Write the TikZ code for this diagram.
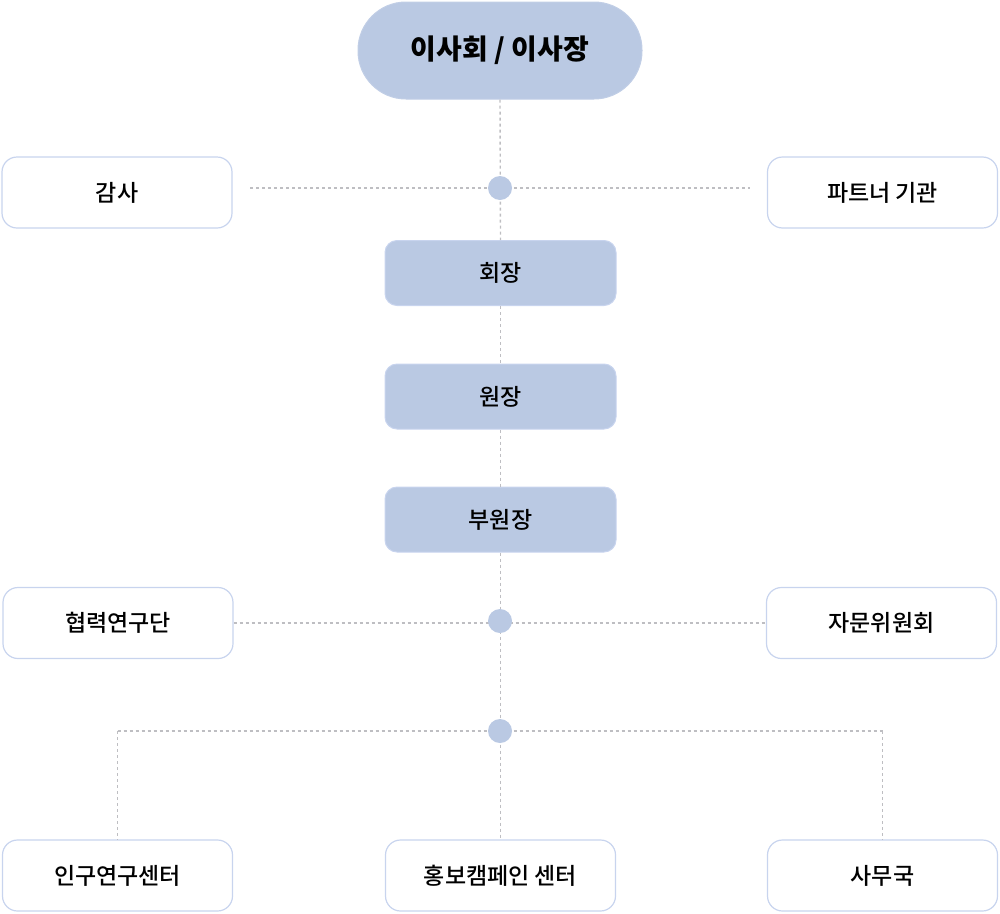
\documentclass[tikz,border=0pt]{standalone}
\usepackage{fontspec}
\setmainfont{Noto Sans CJK KR}
\newfontfamily\krmed{Noto Sans CJK KR Medium}
\definecolor{navy}{RGB}{186,201,227}
\definecolor{navyline}{RGB}{200,212,238}
\definecolor{dotline}{RGB}{190,190,194}
\begin{document}
\begin{tikzpicture}[x=1pt,y=-1pt,
  toppill/.style={fill=navy,draw=navy!90!white,line width=1pt,rounded corners=48pt,minimum width=284pt,minimum height=97pt,font=\fontsize{28}{32}\selectfont\bfseries},
  bluebox/.style={fill=navy,draw=navyline,line width=1pt,rounded corners=12pt,minimum width=231pt,minimum height=65pt,font=\fontsize{23}{27}\selectfont\krmed},
  whitebox/.style={fill=white,draw=navyline,line width=1.2pt,rounded corners=15pt,minimum width=230pt,minimum height=71pt,font=\fontsize{23}{27}\selectfont\krmed},
  hub/.style={circle,fill=navy,inner sep=0pt,minimum size=24pt},
  link/.style={draw=dotline,line width=1.4pt,dash pattern=on 3pt off 3pt}
]
\useasboundingbox (0,0) rectangle (1000,913);
\coordinate (hubA) at (500,188);
\coordinate (hubB) at (500,621);
\coordinate (hubC) at (500,731);
\node[toppill] (top) at (500,50.5) {이사회 / 이사장};
\node[whitebox] (audit) at (117,192.5) {감사};
\node[whitebox] (partner) at (882.5,192.5) {파트너 기관};
\node[bluebox] (chair) at (500.5,273) {회장};
\node[bluebox] (dir) at (500.5,396.5) {원장};
\node[bluebox] (vdir) at (500.5,519.5) {부원장};
\node[whitebox] (coop) at (118,623) {협력연구단};
\node[whitebox] (adv) at (881.5,623) {자문위원회};
\node[whitebox] (pop) at (117.5,875.5) {인구연구센터};
\node[whitebox] (pr) at (500.5,875.5) {홍보캠페인 센터};
\node[whitebox] (office) at (882.5,875.5) {사무국};
\coordinate (audL) at (250,188);
\coordinate (parR) at (750,188);
\coordinate (cL) at (pop.north |- hubC);
\coordinate (cR) at (office.north |- hubC);
\path[link] (top.south) -- (chair.north);
\path[link] (chair.south) -- (dir.north);
\path[link] (dir.south) -- (vdir.north);
\path[link] (vdir.south) -- (pr.north);
\path[link] (audL) -- (parR);
\path[link] (coop.east) -- (adv.west);
\path[link] (cL) -- (cR);
\path[link] (cL) -- (pop.north);
\path[link] (cR) -- (office.north);
\node[hub] (h1) at (hubA) {};
\node[hub] (h2) at (hubB) {};
\node[hub] (h3) at (hubC) {};
\end{tikzpicture}
\end{document}
